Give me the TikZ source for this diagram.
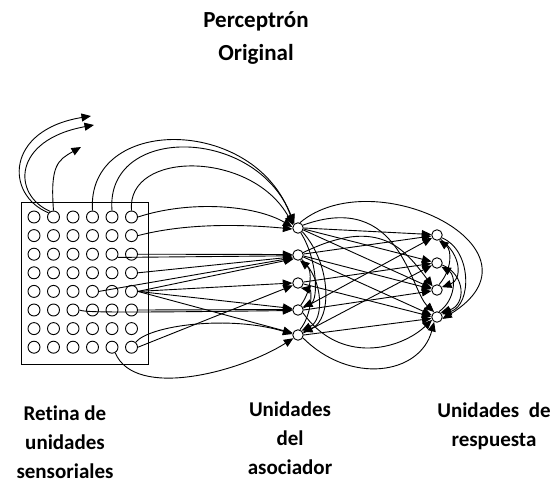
\documentclass[tikz,border=0pt]{standalone}
\usepackage{fontspec}
\setmainfont{Carlito}[Ligatures=NoCommon]
\usetikzlibrary{arrows.meta}
\begin{document}
\begin{tikzpicture}[x=1pt,y=-1pt,
  cell/.style={circle,draw,fill=white,minimum size=12pt,inner sep=0pt,line width=0.9pt},
  unitA/.style={circle,draw,fill=white,minimum size=10.5pt,inner sep=0pt,line width=0.9pt},
  wire/.style={line width=0.9pt},
  fire/.style={wire,-{Triangle[length=9.5pt,width=8pt]}},
  caption/.style={font=\bfseries\fontsize{21}{29}\selectfont,align=center,inner sep=0pt}]
\useasboundingbox (0,0) rectangle (555,483);

% titles and captions (anchor base = baseline of the last line)
\node[caption,font=\bfseries\fontsize{23}{33}\selectfont,anchor=base] (title) at (256,60) {Perceptrón\\Original};
\node[caption,anchor=base] (capS) at (65,478) {Retina de\\unidades\\sensoriales};
\node[caption,anchor=base] (capA) at (290,474) {Unidades\\del\\asociador};
\node[caption,anchor=base] (capR) at (494,446) {Unidades~ de\\respuesta};

% retina
\node[draw,line width=1pt,minimum width=127pt,minimum height=162pt,inner sep=0pt] (retina) at (84.5,283) {};
\foreach \r in {1,...,8}
  \foreach \c in {1,...,6}
    \node[cell] (g-\r-\c) at ({34+19.5*(\c-1)},{217+18.6*(\r-1)}) {};

% association units
\node[unitA] (a1) at (298,228) {};
\node[unitA] (a2) at (298,255) {};
\node[unitA] (a3) at (298,283) {};
\node[unitA] (a4) at (298,310) {};
\node[unitA] (a5) at (298,335) {};

% response units
\node[unitA] (r1) at (437,235) {};
\node[unitA] (r2) at (437,263) {};
\node[unitA] (r3) at (437,290) {};
\node[unitA] (r4) at (437,317) {};

% free ends of the outgoing arrows
\coordinate (o1) at (91,116);
\coordinate (o2) at (94,125);
\coordinate (o3) at (81,147);

% outgoing arrows from the retina
\draw[fire] (g-1-2.140) .. controls (5,195) and (5,130) .. (o1);
\draw[fire] (g-1-2.120) .. controls (12,195) and (12,140) .. (o2);
\draw[fire] (g-1-2.north) .. controls (50,165) and (58,160) .. (o3);

% retina to association units
\draw[fire] (g-1-4.north) .. controls (86,115) and (255,115) .. (a1.140);
\draw[fire] (g-1-5.north) .. controls (105,125) and (255,125) .. (a1.130);
\draw[fire] (g-1-6.north) .. controls (126,150) and (252,150) .. (a1.150);
\draw[fire] (g-1-6.east) .. controls (190,200) and (255,205) .. (a1.170);
\draw[fire] (g-2-6.east) .. controls (190,222) and (250,225) .. (a1.190);
\draw[fire] (g-3-6.east) -- (a2.175);
\draw[fire] (g-3-5.-30) -- (a2.188);
\draw[fire] (g-4-6.east) -- (a2.200);
\draw[fire] (g-5-4.east) -- (a2.210);
\draw[fire] (g-5-6.east) -- (a2.222);
\draw[fire] (g-5-6.east) -- (a3.180);
\draw[fire] (g-5-6.east) -- (a4.165);
\draw[fire] (g-5-6.east) -- (a5.160);
\draw[fire] (g-6-3.east) .. controls (85,312) and (95,313) .. (a4.185);
\draw[fire] (g-6-6.east) -- (a4.175);
\draw[fire] (g-8-6.east) -- (a3.205);
\draw[fire] (g-8-6.50) .. controls (150,325) and (230,315) .. (a5.170);
\draw[fire] (g-8-5.-60) .. controls (135,400) and (240,372) .. (a5.215);

% links among association units
\draw[fire] (a1.-60) .. controls (318,260) and (318,300) .. (a4.30);
\draw[fire] (a1.-40) .. controls (332,265) and (332,320) .. (a5.30);
\draw[fire] (a2.-50) .. controls (324,280) and (324,320) .. (a5.50);
\draw[fire] (a5.70) .. controls (312,315) and (312,290) .. (a3.-60);
\draw[fire] (a4.60) .. controls (312,290) and (312,270) .. (a2.-70);

% association to response units
\draw[fire] (a1.east) -- (r1.175);
\draw[fire] (a1.-10) -- (r2.165);
\draw[fire] (a1.-20) -- (r3.160);
\draw[fire] (a2.10) -- (r1.190);
\draw[fire] (a2.-10) -- (r3.170);
\draw[fire] (a2.-20) -- (r4.160);
\draw[fire] (a3.10) -- (r2.185);
\draw[fire] (a3.-10) -- (r4.175);
\draw[fire] (a4.20) -- (r1.210);
\draw[fire] (a4.east) -- (r3.190);
\draw[fire] (a5.20) -- (r2.205);
\draw[fire] (a5.east) -- (r4.195);
\draw[fire] (a1.70) .. controls (375,160) and (555,250) .. (r4.-20);
\draw[fire] (a1.30) .. controls (400,190) and (410,290) .. (r4.120);
\draw[fire] (a2.25) .. controls (380,215) and (405,250) .. (r3.140);
\draw[fire] (a5.-30) .. controls (350,385) and (420,375) .. (r4.-120);
\draw[fire] (a4.-30) .. controls (340,365) and (400,350) .. (r4.-150);

% links among response units
\draw[fire] (r1.-30) .. controls (472,250) and (472,305) .. (r4.30);
\draw[fire] (r1.-50) .. controls (462,255) and (462,280) .. (r3.30);
\draw[fire] (r2.-20) .. controls (466,275) and (466,305) .. (r4.50);
\draw[fire] (r4.70) .. controls (456,300) and (456,275) .. (r2.-40);
\draw[fire] (r3.70) .. controls (452,270) and (452,250) .. (r1.-70);
\end{tikzpicture}
\end{document}
